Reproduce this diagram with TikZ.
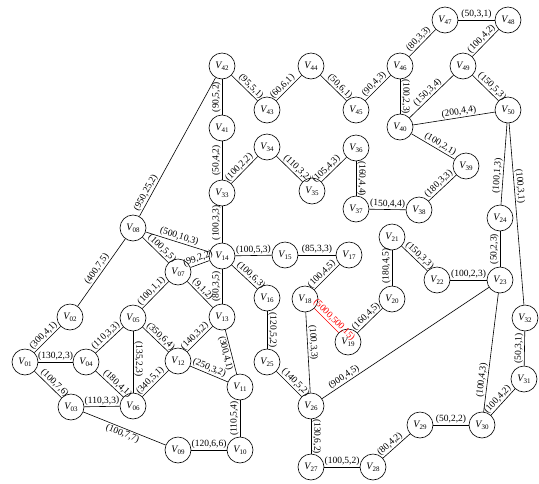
\documentclass[tikz,border=0pt]{standalone}
\usepackage{fontspec}
\setmainfont{Liberation Serif}
\newcommand\vlab[1]{\textit{V}\kern-0.6pt\raisebox{-0.45ex}{\fontsize{7}{7}\selectfont #1}}
\tikzset{
 vtx/.style={circle, draw, line width=0.6pt, minimum size=26pt, inner sep=0pt, fill=white, font=\fontsize{10}{10}\selectfont},
 lab/.style={sloped, inner sep=1pt, font=\fontsize{9.5}{9.5}\selectfont},
 edg/.style={line width=0.6pt},
 redlab/.style={lab, text=red}
}
\begin{document}
\begin{tikzpicture}[x=1pt,y=-1pt]
\useasboundingbox (0,0) rectangle (539,483);
\foreach \n/\x/\y in {01/25/362,02/70/317,03/71/407,04/86/362,05/133/318,06/133/406,07/178/272,08/133/228,09/178/450,10/240/450,11/240/387,12/178/361,13/222/317,14/222/256,15/285/255,16/267/298,17/349/255,18/305/299,19/348/342,20/392/299,21/392/237,22/437/280,23/500/280,24/500/218,25/267/362,26/311/406,27/311/467,28/373/467,29/420/425,30/482/425,31/524/379,32/525/318,33/222/193,34/267/147,35/312/191,36/356/148,37/356/209,38/419/210,39/466/166,40/400/127,41/222/128,42/222/66,43/267/110,44/311/66,45/356/110,46/400/66,47/445/20,48/508/20,49/463/66,50/508/110}
  \node[vtx] (V\n) at (\x,\y) {\vlab{\n}};
\begin{scope}[edg]
\draw (V01) -- node[lab,above,pos=0.5] {(300,4,1)} (V02);
\draw (V01) -- node[lab,above,pos=0.5] {(130,2,3)} (V04);
\draw (V01) -- node[lab,above,pos=0.6] {(100,7,6)} (V03);
\draw (V02) -- node[lab,above,pos=0.5] {(400,7,5)} (V08);
\draw (V03) -- node[lab,above,pos=0.5] {(110,3,3)} (V06);
\draw (V03) -- node[lab,below,pos=0.5] {(100,7,7)} (V09);
\draw (V04) -- node[lab,above,pos=0.5] {(110,3,3)} (V05);
\draw (V04) -- node[lab,above,pos=0.65] {(180,4,1)} (V06);
\draw (V05) -- node[lab,above,pos=0.45] {(135,2,3)} (V06);
\draw (V05) -- node[lab,above,pos=0.55] {(350,6,4)} (V12);
\draw (V05) -- node[lab,above,pos=0.5] {(100,1,1)} (V07);
\draw (V06) -- node[lab,above,pos=0.45] {(340,5,1)} (V12);
\draw (V12) -- node[lab,above,pos=0.45] {(140,3,2)} (V13);
\draw (V12) -- node[lab,above,pos=0.45] {(250,3,2)} (V11);
\draw (V13) -- node[lab,below,pos=0.5] {(300,4,1)} (V11);
\draw (V10) -- node[lab,above,pos=0.5] {(110,5,4)} (V11);
\draw (V09) -- node[lab,above,pos=0.5] {(120,6,6)} (V10);
\draw (V08) -- node[lab,above,pos=0.6] {(100,5,5)} (V07);
\draw (V08) -- node[lab,above,pos=0.5] {(500,10,3)} (V14);
\draw (V08) -- node[lab,above,pos=0.15] {(950,25,2)} (V42);
\draw (V07) -- node[lab,above,pos=0.5] {(99,2,2)} (V14);
\draw (V07) -- node[lab,above,pos=0.45] {(9,1,2)} (V13);
\draw (V13) -- node[lab,above,pos=0.5] {(80,3,5)} (V14);
\draw (V14) -- node[lab,above,pos=0.5] {(100,5,3)} (V15);
\draw (V14) -- node[lab,above,pos=0.6] {(100,6,3)} (V16);
\draw (V14) -- node[lab,above,pos=0.55] {(100,3,3)} (V33);
\draw (V15) -- node[lab,above,pos=0.5] {(85,3,3)} (V17);
\draw (V18) -- node[lab,above,pos=0.45] {(100,4,5)} (V17);
\draw[red] (V18) -- node[redlab,above,pos=0.65] {(5000,500,15)} (V19);
\draw (V18) -- node[lab,above,pos=0.38] {(100,3,3)} (V26);
\draw (V19) -- node[lab,above,pos=0.5] {(160,4,5)} (V20);
\draw (V20) -- node[lab,above,pos=0.55] {(180,4,5)} (V21);
\draw (V21) -- node[lab,above,pos=0.55] {(150,3,3)} (V22);
\draw (V22) -- node[lab,above,pos=0.5] {(100,2,3)} (V23);
\draw (V23) -- node[lab,above,pos=0.5] {(50,2,3)} (V24);
\draw (V26) -- node[lab,above,pos=0.15] {(900,4,5)} (V23);
\draw (V30) -- node[lab,above,pos=0.26] {(100,4,3)} (V23);
\draw (V24) -- node[lab,above,pos=0.35] {(100,1,3)} (V50);
\draw (V50) -- node[lab,above,pos=0.35] {(100,3,1)} (V32);
\draw (V31) -- node[lab,above,pos=0.5] {(50,3,1)} (V32);
\draw (V30) -- node[lab,above,pos=0.45] {(100,4,2)} (V31);
\draw (V29) -- node[lab,above,pos=0.5] {(50,2,2)} (V30);
\draw (V28) -- node[lab,above,pos=0.4] {(80,4,2)} (V29);
\draw (V27) -- node[lab,above,pos=0.5] {(100,5,2)} (V28);
\draw (V26) -- node[lab,above,pos=0.5] {(130,6,2)} (V27);
\draw (V25) -- node[lab,above,pos=0.6] {(140,5,2)} (V26);
\draw (V16) -- node[lab,above,pos=0.5] {(120,5,2)} (V25);
\draw (V33) -- node[lab,above,pos=0.5] {(50,4,2)} (V41);
\draw (V41) -- node[lab,above,pos=0.5] {(90,5,2)} (V42);
\draw (V42) -- node[lab,above,pos=0.6] {(95,5,1)} (V43);
\draw (V43) -- node[lab,above,pos=0.4] {(60,6,1)} (V44);
\draw (V44) -- node[lab,above,pos=0.6] {(50,6,1)} (V45);
\draw (V45) -- node[lab,above,pos=0.5] {(90,4,3)} (V46);
\draw (V46) -- node[lab,above,pos=0.5] {(80,3,3)} (V47);
\draw (V47) -- node[lab,above,pos=0.5] {(50,3,1)} (V48);
\draw (V49) -- node[lab,above,pos=0.5] {(100,4,2)} (V48);
\draw (V40) -- node[lab,above,pos=0.5] {(150,3,4)} (V49);
\draw (V49) -- node[lab,above,pos=0.6] {(150,5,3)} (V50);
\draw (V46) -- node[lab,above,pos=0.5] {(100,2,3)} (V40);
\draw (V40) -- node[lab,above,pos=0.57] {(200,4,4)} (V50);
\draw (V40) -- node[lab,above,pos=0.6] {(100,2,1)} (V39);
\draw (V38) -- node[lab,above,pos=0.5] {(180,3,3)} (V39);
\draw (V37) -- node[lab,above,pos=0.5] {(150,4,4)} (V38);
\draw (V36) -- node[lab,above,pos=0.5] {(160,4,4)} (V37);
\draw (V35) -- node[lab,above,pos=0.35] {(105,4,3)} (V36);
\draw (V34) -- node[lab,above,pos=0.65] {(110,3,2)} (V35);
\draw (V33) -- node[lab,above,pos=0.45] {(100,2,2)} (V34);
\end{scope}
\end{tikzpicture}
\end{document}
